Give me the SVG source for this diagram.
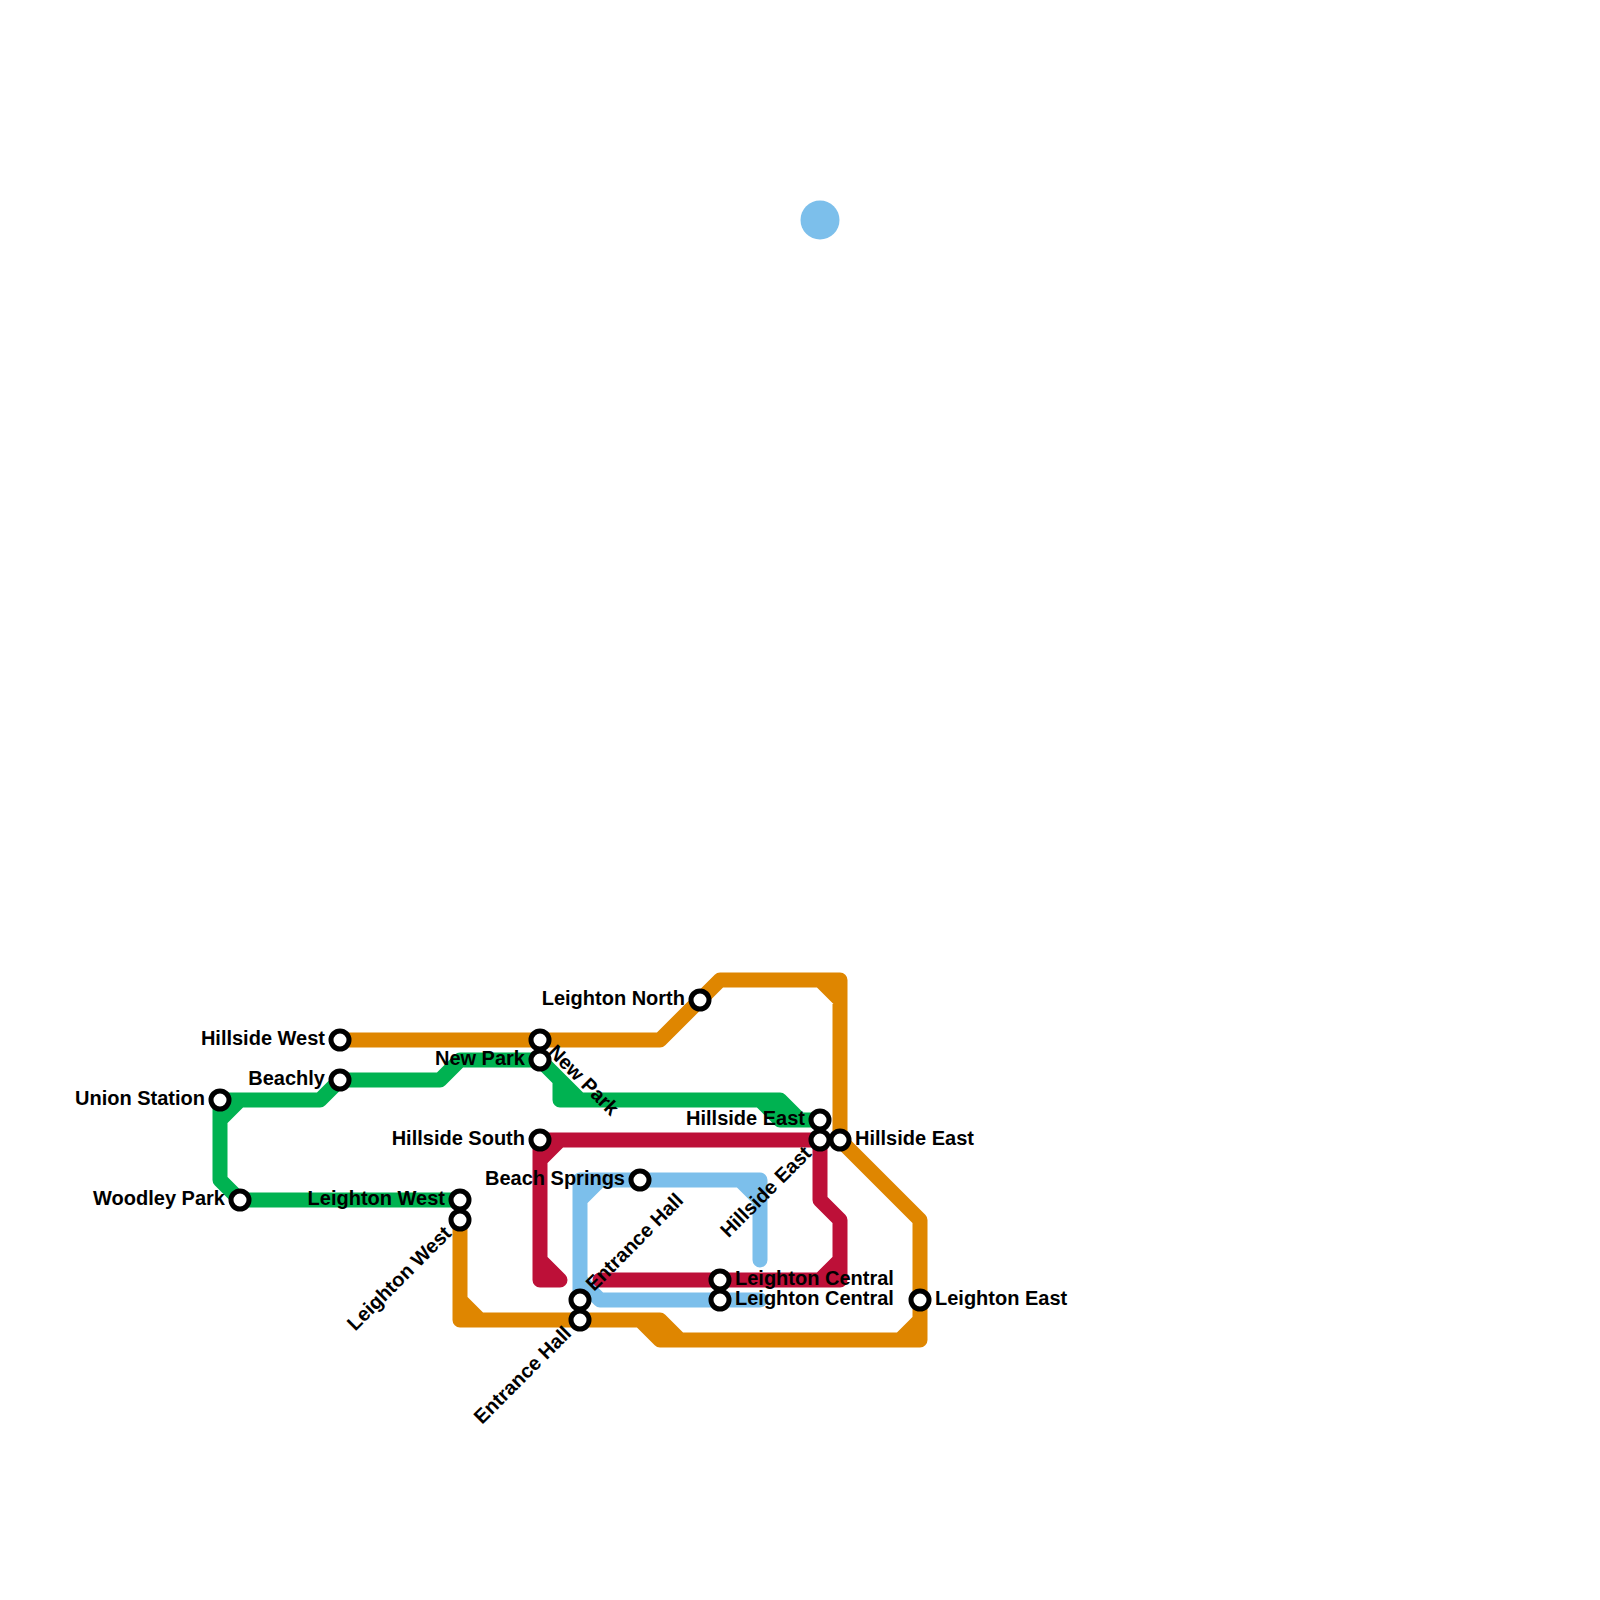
<svg xmlns="http://www.w3.org/2000/svg" width="1600" height="1600" viewBox="0 0 1600 1600">
<style>
.l{fill:none;stroke-width:15;stroke-linecap:round;stroke-linejoin:round}
.o{stroke:#df8600}.g{stroke:#00b251}.r{stroke:#bd1038}.b{stroke:#7cbfeb}
.s{fill:#fff;stroke:#000;stroke-width:5}
text{font-family:"Liberation Sans",Arial,sans-serif;font-weight:700;font-size:20px;fill:#000}
.e{text-anchor:end}
</style>
<rect width="1600" height="1600" fill="#fff"/>
<circle id="blue-dot" cx="820" cy="220" r="19.5" fill="#7cbfeb"/>
<g id="connectors">
<path class="l b" d="M640 1180H760V1260M740 1180L760 1200M640 1180H580V1300M600 1180L580 1200M580 1280L600 1300H760"/>
<path class="l r" d="M540 1140H820V1200L840 1220V1280H600M560 1140L540 1160V1280H560L540 1260M540 1140V1160M840 1260L820 1280"/>
<path class="l g" d="M220 1100H320L340 1080H440L460 1060H540L580 1100H780L800 1120H820M220 1100V1180L240 1200H460M240 1100L220 1120M540 1060L560 1080V1100H580M760 1100L780 1120H820"/>
<path class="l o" d="M340 1040H660L720 980H840V1140L920 1220V1340H660L640 1320H460V1220M820 980L840 1000M460 1300L480 1320M640 1320H660L680 1340M920 1320L900 1340"/>
</g>
<g id="hillside-west"><circle class="s" cx="340" cy="1040" r="9"/><text class="e" x="325" y="1045">Hillside West</text></g>
<g id="beachly"><circle class="s" cx="340" cy="1080" r="9"/><text class="e" x="325" y="1085">Beachly</text></g>
<g id="union-station"><circle class="s" cx="220" cy="1100" r="9"/><text class="e" x="205" y="1105">Union Station</text></g>
<g id="woodley-park"><circle class="s" cx="240" cy="1200" r="9"/><text class="e" x="225" y="1205">Woodley Park</text></g>
<g id="leighton-west-1"><circle class="s" cx="460" cy="1200" r="9"/><text class="e" x="445" y="1205">Leighton West</text></g>
<g id="leighton-west-2"><circle class="s" cx="460" cy="1220" r="9"/><text class="e" transform="translate(452.5 1234.5) rotate(-45)">Leighton West</text></g>
<g id="new-park-1"><circle class="s" cx="540" cy="1040" r="9"/><text transform="translate(547 1053) rotate(45)">New Park</text></g>
<g id="new-park-2"><circle class="s" cx="540" cy="1060" r="9"/><text class="e" x="525" y="1065">New Park</text></g>
<g id="hillside-south"><circle class="s" cx="540" cy="1140" r="9"/><text class="e" x="525" y="1145">Hillside South</text></g>
<g id="beach-springs"><circle class="s" cx="640" cy="1180" r="9"/><text class="e" x="625" y="1185">Beach Springs</text></g>
<g id="leighton-north"><circle class="s" cx="700" cy="1000" r="9"/><text class="e" x="685" y="1005">Leighton North</text></g>
<g id="entrance-hall-1"><circle class="s" cx="580" cy="1300" r="9"/><text transform="translate(594 1292) rotate(-45)">Entrance Hall</text></g>
<g id="entrance-hall-2"><circle class="s" cx="580" cy="1320" r="9"/><text class="e" transform="translate(572.5 1334.5) rotate(-45)">Entrance Hall</text></g>
<g id="leighton-central-1"><circle class="s" cx="720" cy="1280" r="9"/><text x="735" y="1285">Leighton Central</text></g>
<g id="leighton-central-2"><circle class="s" cx="720" cy="1300" r="9"/><text x="735" y="1305">Leighton Central</text></g>
<g id="hillside-east-1"><circle class="s" cx="820" cy="1120" r="9"/><text class="e" x="805" y="1125">Hillside East</text></g>
<g id="hillside-east-2"><circle class="s" cx="820" cy="1140" r="9"/><text class="e" transform="translate(812.5 1154.5) rotate(-45)">Hillside East</text></g>
<g id="hillside-east-3"><circle class="s" cx="840" cy="1140" r="9"/><text x="855" y="1145">Hillside East</text></g>
<g id="leighton-east"><circle class="s" cx="920" cy="1300" r="9"/><text x="935" y="1305">Leighton East</text></g>
</svg>
